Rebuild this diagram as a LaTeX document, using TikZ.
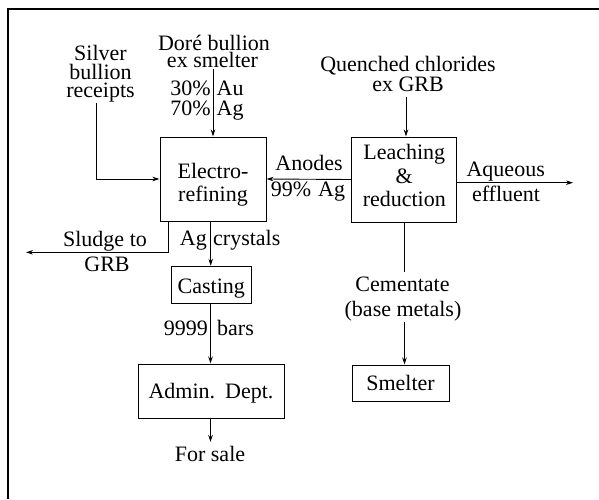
\documentclass[tikz,border=0pt]{standalone}
\usepackage{fontspec}
\setmainfont{Liberation Serif}
\usetikzlibrary{arrows.meta}
\begin{document}
\begin{tikzpicture}[x=1pt,y=-1pt,
  box/.style={draw,line width=1pt,inner sep=0pt,align=center},
  txt/.style={inner sep=0pt,anchor=base},
  conn/.style={line width=0.9pt},
  arr/.style={conn,-{Stealth[length=7pt,width=4.5pt]}},
  frame/.style={line width=1.4pt},
  every node/.append style={font=\fontsize{22}{23.4}\selectfont}]
\useasboundingbox (0,0) rectangle (599,499);
% frame
\coordinate (ftl) at (8,9);
\coordinate (ftr) at (599,9);
\coordinate (fbl) at (8,499);
\draw[frame] (ftr) -- (ftl) -- (fbl);
% boxes
\node[box,minimum width=106pt,minimum height=84pt] (electro) at (213,179)
  {\rule{0pt}{28pt}Electro-\\refining\rule[-6pt]{0pt}{0pt}};
\node[box,minimum width=105pt,minimum height=85pt] (leach) at (404.3,179.5)
  {\rule{0pt}{16pt}Leaching\\\&\\reduction\rule[-8.3pt]{0pt}{0pt}};
\node[box,minimum width=80.5pt,minimum height=37.5pt,text height=20pt,text depth=4pt] (casting) at (211.3,285) {Casting};
\node[box,minimum width=146pt,minimum height=54pt,text height=20pt,text depth=5.4pt] (admin) at (211,391) {Admin.\hspace{10pt}Dept.};
\node[box,minimum width=97pt,minimum height=36pt,text height=15pt,text depth=1pt] (smelter) at (400.5,383) {Smelter};
% free text labels (one node per printed line, placed by baseline)
\node[txt] (silver1) at (100.5,60.5) {Silver};
\node[txt] (silver2) at (100.5,79) {bullion};
\node[txt] (silver3) at (100.5,97) {receipts};
\node[txt] (dore1) at (214,50.5) {Doré bullion};
\node[txt] (dore2) at (212.5,67) {ex smelter};
\node[txt,anchor=base east] (p30) at (211,95) {30\%};
\node[txt,anchor=base west] (au) at (216.5,95) {Au};
\node[txt,anchor=base east] (p70) at (211,115) {70\%};
\node[txt,anchor=base west] (ag1) at (216.5,115) {Ag};
\node[txt] (quench1) at (408,71.5) {Quenched chlorides};
\node[txt] (quench2) at (408,91.7) {ex GRB};
\node[txt] (anodes) at (309,170) {Anodes};
\node[txt] (p99) at (308,196.7) {99\%\hspace{7pt}Ag};
\node[txt] (aq1) at (505.7,176.7) {Aqueous};
\node[txt] (aq2) at (506,201.7) {effluent};
\node[txt] (cem1) at (402.5,291.7) {Cementate};
\node[txt] (cem2) at (403,316.7) {(base metals)};
\node[txt] (sludge1) at (105,246.7) {Sludge to};
\node[txt] (sludge2) at (107,271.7) {GRB};
\node[txt,anchor=base east] (ag2) at (207,245) {Ag};
\node[txt,anchor=base west] (cryst) at (213,245) {crystals};
\node[txt,anchor=base east] (n9999) at (208,335) {9999};
\node[txt,anchor=base west] (bars) at (217,335) {bars};
\node[txt] (sale) at (210,461.7) {For sale};
% connectors
\coordinate (silvtop) at (96,103);
\draw[arr] (silvtop) |- (electro.west);
\coordinate (doretop) at (213,69);
\draw[arr] (doretop) -- (electro.north);
\coordinate (quentop) at (406,97);
\draw[arr] (quentop) -- (quentop |- leach.north);
\draw[arr] (leach.west) -- (electro.east);
\coordinate (aqend) at (573,182.7);
\draw[arr] (leach.east |- aqend) -- (aqend);
\coordinate (cemtop) at (404.5,272);
\draw[conn] (cemtop |- leach.south) -- (cemtop);
\coordinate (cembot) at (404.5,322);
\draw[arr] (cembot) -- (cembot |- smelter.north);
\coordinate (sludgecorner) at (168.5,252.3);
\coordinate (sludgeend) at (26,252.3);
\draw[arr] (sludgecorner |- electro.south) -- (sludgecorner) -- (sludgeend);
\coordinate (agx) at (210.7,0);
\draw[arr] (agx |- electro.south) -- (agx |- casting.north);
\coordinate (barsx) at (210.5,0);
\draw[arr] (barsx |- casting.south) -- (barsx |- admin.north);
\coordinate (saleend) at (210.5,442);
\draw[arr] (barsx |- admin.south) -- (saleend);
\end{tikzpicture}
\end{document}
